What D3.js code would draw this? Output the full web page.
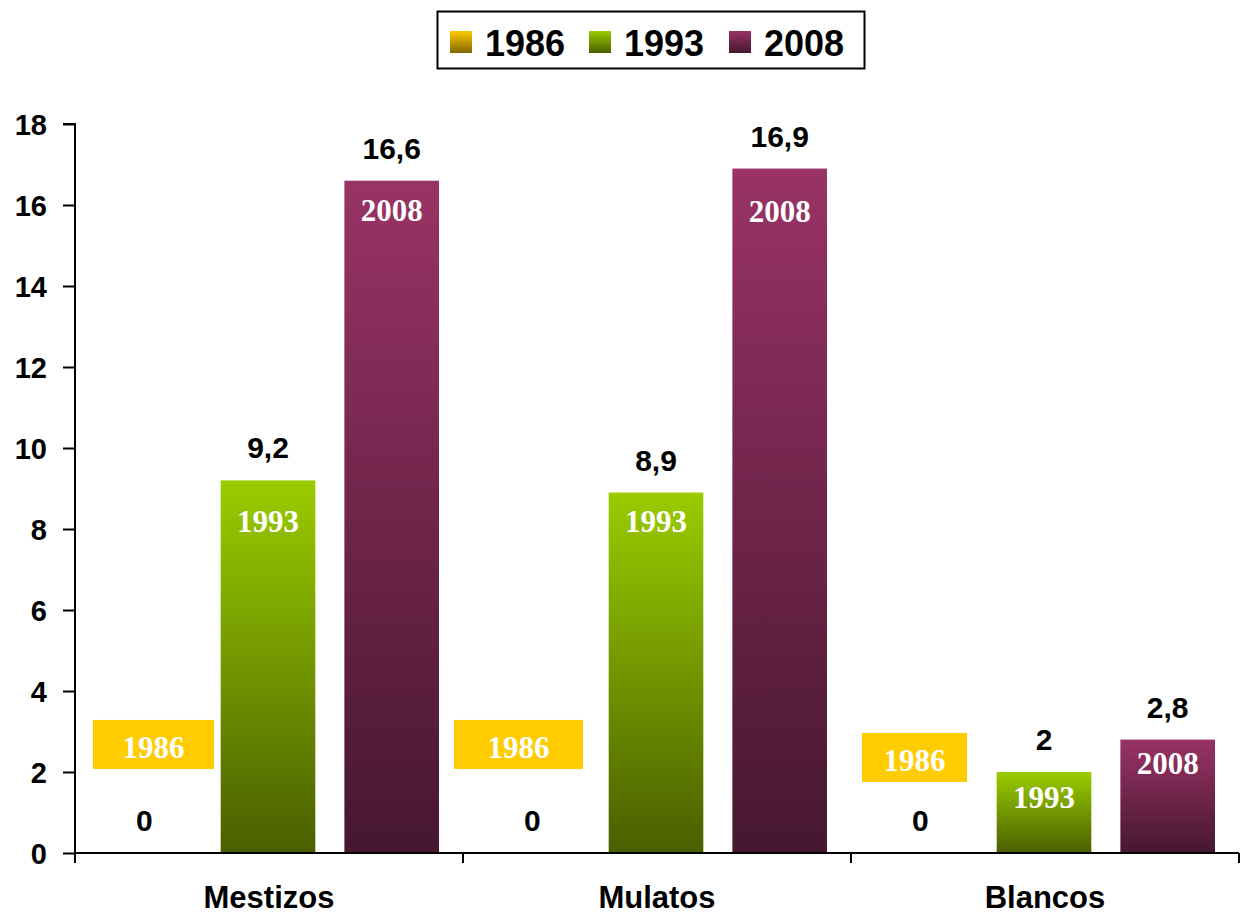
<!DOCTYPE html>
<html><head><meta charset="utf-8">
<script src="https://cdn.jsdelivr.net/npm/d3@7"></script>
<style>body{margin:0;background:#fff}svg{display:block}</style>
</head><body>
<svg id="chart" width="1248" height="916"></svg>
<script>
const categories = ["Mestizos", "Mulatos", "Blancos"];
const seriesNames = ["1986", "1993", "2008"];
const values1986 = [0, 0, 0];
const values1993 = [9.2, 8.9, 2];
const values2008 = [16.6, 16.9, 2.8];
const valueLabels1986 = ["0", "0", "0"];
const valueLabels1993 = ["9,2", "8,9", "2"];
const valueLabels2008 = ["16,6", "16,9", "2,8"];
const yTicks = [0, 2, 4, 6, 8, 10, 12, 14, 16, 18];

// layout constants (not data)
const tag1986Level = [2.68, 2.68, 2.36];      // vertical centre of floating "1986" tags, in axis units
const tag1986DX = [18, -9, 11];               // px offset from category start
const tag1986W = [121, 129, 105];
const inBarTagDY = {"1993": [52, 39, 36], "2008": [40, 53, 34]}; // baseline offset below bar top

const colors = {
  "1986": ["#ffcc00", "#806600"],
  "1993": ["#99cc00", "#4a5f00"],
  "2008": ["#993366", "#46172f"]
};

const svg = d3.select("#chart");
const m = {left: 75, right: 1239, top: 124, bottom: 853};
const sans = "Arial, 'Liberation Sans', sans-serif";
const serif = "'Times New Roman', 'Liberation Serif', serif";

const x = d3.scaleBand().domain(categories).range([m.left, m.right]).paddingInner(0).paddingOuter(0);
const xs = d3.scaleBand().domain(seriesNames).range([22, x.bandwidth() - 24]).paddingInner(0.235).paddingOuter(0);
const y = d3.scaleLinear().domain([0, 18]).range([m.bottom, m.top]);

const defs = svg.append("defs");
seriesNames.forEach(s => {
  const g = defs.append("linearGradient").attr("id", "g" + s).attr("x1", 0).attr("y1", 0).attr("x2", 0).attr("y2", 1);
  g.append("stop").attr("offset", "0%").attr("stop-color", colors[s][0]);
  g.append("stop").attr("offset", "100%").attr("stop-color", colors[s][1]);
});

const data = [];
categories.forEach((c, i) => {
  data.push({c, s: "1986", v: values1986[i], lab: valueLabels1986[i], i});
  data.push({c, s: "1993", v: values1993[i], lab: valueLabels1993[i], i});
  data.push({c, s: "2008", v: values2008[i], lab: valueLabels2008[i], i});
});

// bars
svg.append("g").selectAll("rect").data(data.filter(d => d.v > 0)).join("rect")
  .attr("x", d => x(d.c) + xs(d.s))
  .attr("width", xs.bandwidth())
  .attr("y", d => y(d.v))
  .attr("height", d => y(0) - y(d.v))
  .attr("fill", d => "url(#g" + d.s + ")");

// axes
const yAxis = svg.append("g").attr("transform", `translate(${m.left},0)`)
  .call(d3.axisLeft(y).tickValues(yTicks).tickSize(12).tickPadding(16).tickFormat(d3.format("d")));
yAxis.select(".domain").attr("d", `M-12,${m.top}H0V${m.bottom + 10}`).attr("stroke", "#000").attr("stroke-width", 2);
yAxis.selectAll(".tick line").attr("stroke-width", 2);
yAxis.selectAll("text").attr("font-family", sans).attr("font-weight", "bold").attr("font-size", 29).attr("fill", "#000").attr("dy", "0.36em");

const xg = svg.append("g");
xg.append("line").attr("x1", m.left).attr("x2", m.right).attr("y1", y(0)).attr("y2", y(0)).attr("stroke", "#000").attr("stroke-width", 2);
const tickXs = categories.map(c => x(c)).concat([x(categories[categories.length - 1]) + x.bandwidth()]);
xg.selectAll("line.t").data(tickXs).join("line").attr("class", "t")
  .attr("x1", d => d).attr("x2", d => d).attr("y1", y(0)).attr("y2", y(0) + 10)
  .attr("stroke", "#000").attr("stroke-width", 2);
xg.selectAll("text").data(categories).join("text")
  .attr("x", d => x(d) + x.bandwidth() / 2).attr("y", 908)
  .attr("text-anchor", "middle")
  .attr("font-family", sans).attr("font-weight", "bold").attr("font-size", 31)
  .text(d => d);

// value labels
svg.append("g").selectAll("text").data(data).join("text")
  .attr("x", d => x(d.c) + xs(d.s) + xs.bandwidth() / 2)
  .attr("y", d => y(d.v) - 22)
  .attr("text-anchor", "middle")
  .attr("font-family", sans).attr("font-weight", "bold").attr("font-size", 30)
  .text(d => d.lab);

// in-bar year tags
svg.append("g").selectAll("text").data(data.filter(d => d.v > 0)).join("text")
  .attr("x", d => x(d.c) + xs(d.s) + xs.bandwidth() / 2)
  .attr("y", d => y(d.v) + inBarTagDY[d.s][d.i])
  .attr("text-anchor", "middle")
  .attr("font-family", serif).attr("font-weight", "bold").attr("font-size", 31)
  .attr("fill", "#fff")
  .text(d => d.s);

// 1986 floating tags
const tags = svg.append("g").selectAll("g").data(categories).join("g");
tags.append("rect")
  .attr("x", (d, i) => x(d) + tag1986DX[i])
  .attr("y", (d, i) => y(tag1986Level[i]) - 24.5)
  .attr("width", (d, i) => tag1986W[i])
  .attr("height", 49)
  .attr("fill", "#ffcc00");
tags.append("text")
  .attr("x", (d, i) => x(d) + tag1986DX[i] + tag1986W[i] / 2)
  .attr("y", (d, i) => y(tag1986Level[i]) + 13.5)
  .attr("text-anchor", "middle")
  .attr("font-family", serif).attr("font-weight", "bold").attr("font-size", 31)
  .attr("fill", "#fff")
  .text("1986");

// legend
const lg = svg.append("g");
lg.append("rect").attr("x", 437.5).attr("y", 11.5).attr("width", 427).attr("height", 57)
  .attr("fill", "#fff").attr("stroke", "#000").attr("stroke-width", 2);
const legX = [450, 589, 729];
seriesNames.forEach((s, i) => {
  lg.append("rect").attr("x", legX[i]).attr("y", 31).attr("width", 22).attr("height", 22).attr("fill", `url(#g${s})`);
  lg.append("text").attr("x", legX[i] + 35).attr("y", 56)
    .attr("font-family", sans).attr("font-weight", "bold").attr("font-size", 36)
    .text(s);
});
</script>
</body></html>
